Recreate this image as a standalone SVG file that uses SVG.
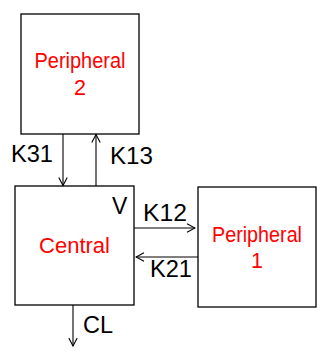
<svg xmlns="http://www.w3.org/2000/svg" width="325" height="361" viewBox="0 0 325 361">
  <style>
    .box { fill: #ffffff; stroke: #000000; stroke-width: 1.3; }
    .name { font-family: "Liberation Sans", Arial, sans-serif; font-size: 21.5px; fill: #ff0000; text-anchor: middle; }
    .rate { font-family: "Liberation Sans", Arial, sans-serif; font-size: 23px; fill: #000000; }
    .link { fill: none; stroke: #000000; stroke-width: 1.1; marker-end: url(#open); }
  </style>
  <defs>
    <marker id="open" viewBox="0 0 10 10" refX="9" refY="5" markerWidth="10" markerHeight="10" markerUnits="userSpaceOnUse" orient="auto">
      <path d="M1,0.8 L9,5 L1,9.2" fill="none" stroke="#000000" stroke-width="1.1"/>
    </marker>
  </defs>
  <rect width="325" height="361" fill="#ffffff"/>

  <g id="peripheral2">
    <rect class="box" x="21" y="14" width="118" height="120"/>
    <text class="name" x="80" y="68" textLength="91" lengthAdjust="spacingAndGlyphs">Peripheral</text>
    <text class="name" x="80" y="95">2</text>
  </g>

  <g id="central">
    <rect class="box" x="15" y="186" width="119" height="119"/>
    <text class="name" x="74.5" y="253" textLength="71" lengthAdjust="spacingAndGlyphs">Central</text>
    <text class="rate" x="112" y="214">V</text>
  </g>

  <g id="peripheral1">
    <rect class="box" x="198" y="187" width="118" height="120"/>
    <text class="name" x="257" y="242" textLength="90" lengthAdjust="spacingAndGlyphs">Peripheral</text>
    <text class="name" x="257" y="268">1</text>
  </g>

  <g id="connectors">
    <line class="link" x1="63" y1="134" x2="63" y2="185.5"/>
    <line class="link" x1="96" y1="186" x2="96" y2="134.5"/>
    <line class="link" x1="134" y1="228" x2="195" y2="228"/>
    <line class="link" x1="198" y1="257" x2="136" y2="257"/>
    <line class="link" x1="73" y1="305" x2="73" y2="346"/>
    <text class="rate" x="11" y="162" textLength="42" lengthAdjust="spacingAndGlyphs">K31</text>
    <text class="rate" x="110" y="164" textLength="43" lengthAdjust="spacingAndGlyphs">K13</text>
    <text class="rate" x="143" y="221" textLength="44" lengthAdjust="spacingAndGlyphs">K12</text>
    <text class="rate" x="150" y="277" textLength="42" lengthAdjust="spacingAndGlyphs">K21</text>
    <text class="rate" x="83" y="333" textLength="30" lengthAdjust="spacingAndGlyphs">CL</text>
  </g>
</svg>
